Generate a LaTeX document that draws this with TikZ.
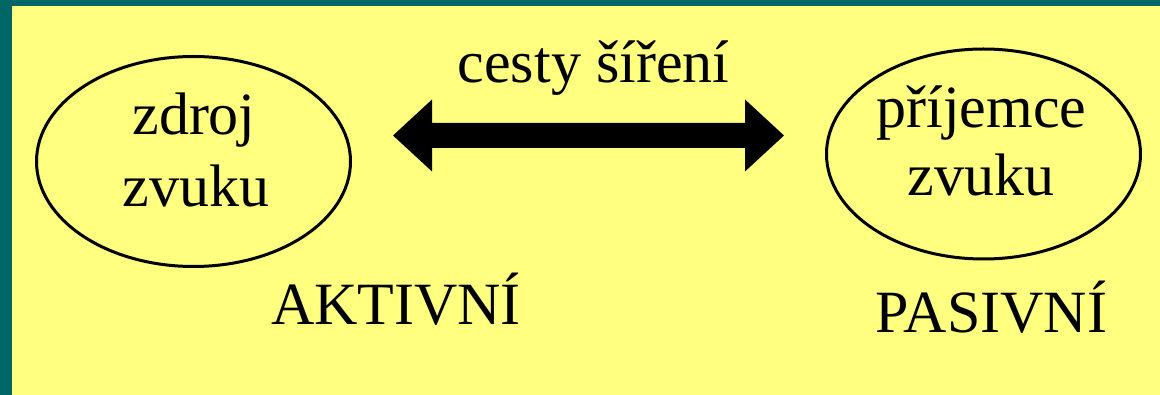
\documentclass[tikz,border=0pt]{standalone}
\usepackage{fontspec}
\setmainfont{Liberation Serif}
\usetikzlibrary{shapes.geometric}
\definecolor{frame}{HTML}{006666}
\definecolor{paper}{HTML}{FFFF80}
\begin{document}
\begin{tikzpicture}[x=1pt,y=-1pt,
  label/.style={anchor=base,inner sep=0pt,font=\fontsize{60}{72}\selectfont},
  oval/.style={ellipse,draw,line width=3pt,inner sep=0pt,minimum width=314pt,minimum height=210pt}]
  % frame and background
  \useasboundingbox (0,0) rectangle (1160,395);
  \fill[frame] (0,0) rectangle (1160,395);
  \fill[paper] (12,6) rectangle (1160,395);
  % two ovals
  \node[oval] (src) at (193.5,161.5) {};
  \node[oval] (rcv) at (983.5,154) {};
  % texts inside the ovals
  \node[label] (src1) at (194,135) {zdroj};
  \node[label] (src2) at (196,207) {zvuku};
  \node[label] (rcv1) at (981.5,128) {příjemce};
  \node[label] (rcv2) at (981,196) {zvuku};
  % captions
  \node[label] (path) at (593.5,83) {cesty šíření};
  \node[label] (act) at (396,325) {AKTIVNÍ};
  \node[label] (pas) at (991.5,333) {PASIVNÍ};
  % double-headed block arrow
  \coordinate (la) at (393,135.5);
  \coordinate (ra) at (784,135.5);
  \fill (la) -- ++(39,-36) -- ++(0,23.5) -- ++(313,0) -- ++(0,-23.5)
        -- (ra) -- ++(-39,36) -- ++(0,-23.5) -- ++(-313,0) -- ++(0,23.5) -- cycle;
\end{tikzpicture}
\end{document}
